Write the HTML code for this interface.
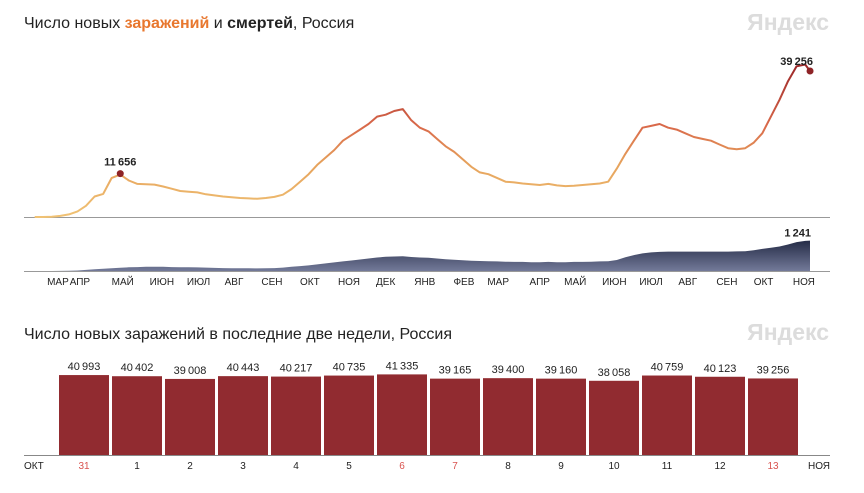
<!DOCTYPE html>
<html><head><meta charset="utf-8">
<style>
html,body{margin:0;padding:0;background:#fff;}
body{width:864px;height:488px;overflow:hidden;font-family:"Liberation Sans","DejaVu Sans",sans-serif;}
svg text{font-family:"Liberation Sans","DejaVu Sans",sans-serif;}
</style></head>
<body>
<svg id="c" width="864" height="488" viewBox="0 0 864 488">
<defs>
<linearGradient id="lineGrad" gradientUnits="userSpaceOnUse" x1="0" y1="217" x2="0" y2="65">
<stop offset="0" stop-color="#f0c274"/>
<stop offset="0.35" stop-color="#e6a25c"/>
<stop offset="0.6" stop-color="#d9694a"/>
<stop offset="1" stop-color="#9b2628"/>
</linearGradient>
<linearGradient id="areaGrad" gradientUnits="userSpaceOnUse" x1="0" y1="240" x2="0" y2="271">
<stop offset="0" stop-color="#232a45"/>
<stop offset="1" stop-color="#737a99"/>
</linearGradient>
</defs>
<text x="24" y="28" font-size="16" fill="#222">Число новых <tspan fill="#e8772e" font-weight="bold">заражений</tspan> и <tspan font-weight="bold">смертей</tspan>, Россия</text>
<text x="829" y="30" font-size="23" font-weight="bold" fill="#dcdcdc" text-anchor="end">Яндекс</text>
<line x1="24" y1="217.5" x2="830" y2="217.5" stroke="#999" stroke-width="1"/>
<line x1="24" y1="271.5" x2="830" y2="271.5" stroke="#999" stroke-width="1"/>
<g id="topg"></g>
<text x="24" y="339" font-size="16" fill="#222">Число новых заражений в последние две недели, Россия</text>
<text x="829" y="340" font-size="23" font-weight="bold" fill="#dcdcdc" text-anchor="end">Яндекс</text>
<g id="botg"></g>
<line x1="24" y1="455.5" x2="830" y2="455.5" stroke="#888" stroke-width="1"/>
<text x="24" y="469" font-size="10" fill="#222">ОКТ</text>
<text x="830" y="469" font-size="10" fill="#222" text-anchor="end">НОЯ</text>
</svg>
<script>
// weekly new cases
const caseValues = [0,10,60,300,700,1500,3000,5500,6200,10500,11400,9800,8900,8800,8700,8200,7600,7000,6800,6600,6100,5800,5500,5300,5100,5000,4900,5100,5400,6000,7500,9500,11500,14000,16000,18000,20500,22000,23500,25000,27000,27500,28500,29000,26000,24000,23000,21000,19000,17500,15500,13500,12000,11500,10500,9500,9300,9000,8800,8600,8900,8500,8300,8400,8600,8800,9000,9500,13000,17000,20500,24000,24500,25000,24000,23500,22500,21500,21000,20500,19500,18500,18200,18500,20000,22500,27000,31500,36500,40500,41000];
const caseLast = 39256;
const peak2020 = 11656;
const peak2020Week = 10;
const deathValues = [0,0,1,3,8,20,45,70,90,110,130,150,160,170,175,170,160,155,150,145,140,125,120,115,110,110,105,110,120,140,170,200,230,270,310,350,390,430,470,510,550,580,590,600,570,550,540,510,480,460,440,420,410,400,390,380,370,370,360,360,370,360,360,370,370,380,390,400,450,560,650,720,760,780,790,790,790,790,790,790,790,790,800,810,850,900,950,1000,1080,1180,1230];
const deathLast = 1241;
const monthLabels = ["МАР","АПР","МАЙ","ИЮН","ИЮЛ","АВГ","СЕН","ОКТ","НОЯ","ДЕК","ЯНВ","ФЕВ","МАР","АПР","МАЙ","ИЮН","ИЮЛ","АВГ","СЕН","ОКТ","НОЯ"];
const monthCenters = [13,31,66,98,128,157,188,219,251,281,313,345,373,407,436,468,498,528,560,590,623];
const barDays = ["31","1","2","3","4","5","6","7","8","9","10","11","12","13"];
const barValues = [40993,40402,39008,40443,40217,40735,41335,39165,39400,39160,38058,40759,40123,39256];
const weekend = [true,false,false,false,false,false,true,true,false,false,false,false,false,true];

const NS="http://www.w3.org/2000/svg";
function mk(tag,attrs,parent){const e=document.createElementNS(NS,tag);for(const k in attrs)e.setAttribute(k,attrs[k]);parent.appendChild(e);return e;}
const xDay=d=>42+d*1.223;
const wDay=i=>i*7-6;
const yCase=v=>217-v*0.00372;
const yDeath=v=>271-v*0.0245;
const fmt=v=>String(v).replace(/\B(?=(\d{3})+(?!\d))/g,"\u2009");
const topG=document.getElementById('topg');
const lastDay=wDay(caseValues.length-1)+4;
let dp="M"+xDay(wDay(0))+","+271;
deathValues.forEach((v,i)=>{dp+=" L"+xDay(wDay(i)).toFixed(1)+","+yDeath(v).toFixed(1);});
dp+=" L"+xDay(lastDay).toFixed(1)+","+yDeath(deathLast).toFixed(1)+" L"+xDay(lastDay).toFixed(1)+",271 Z";
const area=mk('path',{d:dp,fill:"url(#areaGrad)"},topG);


let cp="";
caseValues.forEach((v,i)=>{cp+=(i?" L":"M")+xDay(wDay(i)).toFixed(1)+","+yCase(v).toFixed(1);});
cp+=" L"+xDay(lastDay).toFixed(1)+","+yCase(caseLast).toFixed(1);
const line=mk('path',{d:cp,fill:"none",stroke:"url(#lineGrad)","stroke-width":2,"stroke-linejoin":"round"},topG);


const d1=mk('circle',{cx:xDay(wDay(peak2020Week)),cy:yCase(peak2020),r:3.5,fill:"#8e2326"},topG);


const t1=mk('text',{x:xDay(wDay(peak2020Week)),y:yCase(peak2020)-8,"font-size":11,"font-weight":"bold",fill:"#222","text-anchor":"middle"},topG);
t1.textContent=fmt(peak2020);


const d2=mk('circle',{cx:xDay(lastDay),cy:yCase(caseLast),r:3.5,fill:"#8e2326"},topG);


const t2=mk('text',{x:xDay(lastDay)+3,y:65,"font-size":11,"font-weight":"bold",fill:"#222","text-anchor":"end"},topG);
t2.textContent=fmt(caseLast);


const t3=mk('text',{x:xDay(lastDay)+1,y:yDeath(deathLast)-4,"font-size":11,"font-weight":"bold",fill:"#222","text-anchor":"end"},topG);
t3.textContent=fmt(deathLast);


monthLabels.forEach((m,i)=>{
 const t=mk('text',{x:xDay(monthCenters[i]),y:285,"font-size":10,fill:"#222","text-anchor":"middle"},topG);
 t.textContent=m;
 
 
});
const botG=document.getElementById('botg');
const xBar=i=>59+i*53;
const yBar=v=>455-v*0.00195;
barValues.forEach((v,i)=>{
 const r=mk('rect',{x:xBar(i),y:yBar(v),width:50,height:455-yBar(v),fill:"#912b30"},botG);
 
 
 const t=mk('text',{x:xBar(i)+25,y:yBar(v)-5,"font-size":11,fill:"#222","text-anchor":"middle"},botG);
 t.textContent=fmt(v);
 
 
 const d=mk('text',{x:xBar(i)+25,y:469,"font-size":10,fill:weekend[i]?"#d9534f":"#222","text-anchor":"middle"},botG);
 d.textContent=barDays[i];
 
 
});
</script>
</body></html>
